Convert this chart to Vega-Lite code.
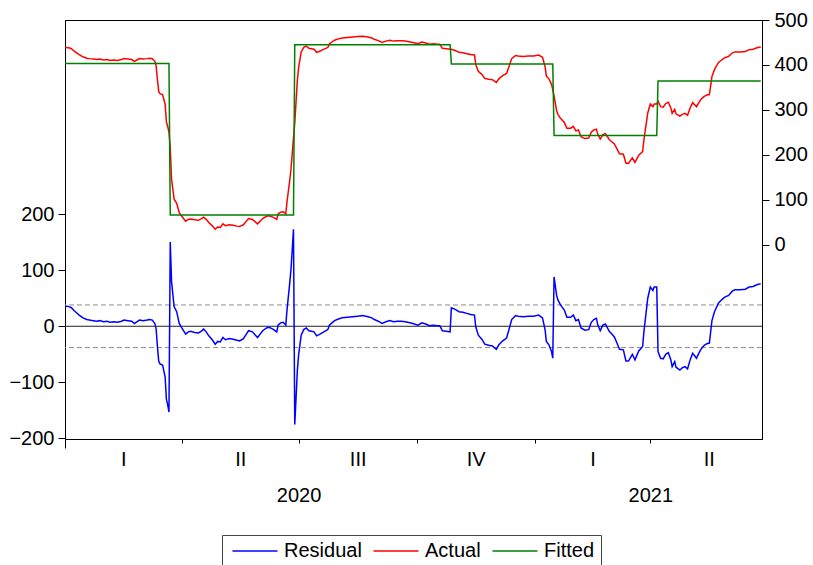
{
  "$schema": "https://vega.github.io/schema/vega-lite/v6.json",
  "width": 697,
  "height": 419,
  "autosize": {"type": "none"},
  "padding": {"left": 65, "top": 20, "right": 51, "bottom": 126},
  "data": {
    "values": [
      {"date": "2020-01-01", "Residual": 36, "Actual": 439, "Fitted": 403},
      {"date": "2020-01-04", "Residual": 35, "Actual": 438, "Fitted": 403},
      {"date": "2020-01-06", "Residual": 33, "Actual": 436, "Fitted": 403},
      {"date": "2020-01-08", "Residual": 28, "Actual": 431, "Fitted": 403},
      {"date": "2020-01-10", "Residual": 24, "Actual": 427, "Fitted": 403},
      {"date": "2020-01-12", "Residual": 20, "Actual": 423, "Fitted": 403},
      {"date": "2020-01-15", "Residual": 15, "Actual": 418, "Fitted": 403},
      {"date": "2020-01-18", "Residual": 12, "Actual": 415, "Fitted": 403},
      {"date": "2020-01-20", "Residual": 11, "Actual": 414, "Fitted": 403},
      {"date": "2020-01-23", "Residual": 10, "Actual": 413, "Fitted": 403},
      {"date": "2020-01-26", "Residual": 9, "Actual": 412, "Fitted": 403},
      {"date": "2020-01-28", "Residual": 10, "Actual": 413, "Fitted": 403},
      {"date": "2020-01-31", "Residual": 8, "Actual": 411, "Fitted": 403},
      {"date": "2020-02-03", "Residual": 9, "Actual": 412, "Fitted": 403},
      {"date": "2020-02-05", "Residual": 7, "Actual": 410, "Fitted": 403},
      {"date": "2020-02-08", "Residual": 8, "Actual": 411, "Fitted": 403},
      {"date": "2020-02-11", "Residual": 7, "Actual": 410, "Fitted": 403},
      {"date": "2020-02-14", "Residual": 9, "Actual": 412, "Fitted": 403},
      {"date": "2020-02-16", "Residual": 11, "Actual": 414, "Fitted": 403},
      {"date": "2020-02-19", "Residual": 10, "Actual": 413, "Fitted": 403},
      {"date": "2020-02-22", "Residual": 9, "Actual": 412, "Fitted": 403},
      {"date": "2020-02-24", "Residual": 5, "Actual": 408, "Fitted": 403},
      {"date": "2020-02-26", "Residual": 8, "Actual": 411, "Fitted": 403},
      {"date": "2020-02-28", "Residual": 11, "Actual": 414, "Fitted": 403},
      {"date": "2020-03-02", "Residual": 10, "Actual": 413, "Fitted": 403},
      {"date": "2020-03-05", "Residual": 11, "Actual": 414, "Fitted": 403},
      {"date": "2020-03-07", "Residual": 12, "Actual": 415, "Fitted": 403},
      {"date": "2020-03-09", "Residual": 11, "Actual": 414, "Fitted": 403},
      {"date": "2020-03-11", "Residual": 5, "Actual": 408, "Fitted": 403},
      {"date": "2020-03-12", "Residual": -5, "Actual": 398, "Fitted": 403},
      {"date": "2020-03-13", "Residual": -36, "Actual": 367, "Fitted": 403},
      {"date": "2020-03-14", "Residual": -62, "Actual": 341, "Fitted": 403},
      {"date": "2020-03-15", "Residual": -67, "Actual": 336, "Fitted": 403},
      {"date": "2020-03-17", "Residual": -69, "Actual": 334, "Fitted": 403},
      {"date": "2020-03-19", "Residual": -90, "Actual": 313, "Fitted": 403},
      {"date": "2020-03-20", "Residual": -130, "Actual": 273, "Fitted": 403},
      {"date": "2020-03-21", "Residual": -140, "Actual": 263, "Fitted": 403},
      {"date": "2020-03-22", "Residual": -153, "Actual": 250, "Fitted": 403},
      {"date": "2020-03-23", "Residual": 150, "Actual": 216, "Fitted": 66},
      {"date": "2020-03-24", "Residual": 80, "Actual": 146, "Fitted": 66},
      {"date": "2020-03-26", "Residual": 35, "Actual": 101, "Fitted": 66},
      {"date": "2020-03-28", "Residual": 26, "Actual": 92, "Fitted": 66},
      {"date": "2020-03-30", "Residual": 5, "Actual": 71, "Fitted": 66},
      {"date": "2020-04-01", "Residual": -3, "Actual": 63, "Fitted": 66},
      {"date": "2020-04-04", "Residual": -14, "Actual": 52, "Fitted": 66},
      {"date": "2020-04-06", "Residual": -10, "Actual": 56, "Fitted": 66},
      {"date": "2020-04-08", "Residual": -9, "Actual": 57, "Fitted": 66},
      {"date": "2020-04-11", "Residual": -11, "Actual": 55, "Fitted": 66},
      {"date": "2020-04-14", "Residual": -12, "Actual": 54, "Fitted": 66},
      {"date": "2020-04-16", "Residual": -9, "Actual": 57, "Fitted": 66},
      {"date": "2020-04-18", "Residual": -5, "Actual": 61, "Fitted": 66},
      {"date": "2020-04-20", "Residual": -10, "Actual": 56, "Fitted": 66},
      {"date": "2020-04-22", "Residual": -17, "Actual": 49, "Fitted": 66},
      {"date": "2020-04-25", "Residual": -25, "Actual": 41, "Fitted": 66},
      {"date": "2020-04-27", "Residual": -32, "Actual": 34, "Fitted": 66},
      {"date": "2020-04-29", "Residual": -27, "Actual": 39, "Fitted": 66},
      {"date": "2020-05-01", "Residual": -28, "Actual": 38, "Fitted": 66},
      {"date": "2020-05-03", "Residual": -20, "Actual": 46, "Fitted": 66},
      {"date": "2020-05-05", "Residual": -24, "Actual": 42, "Fitted": 66},
      {"date": "2020-05-08", "Residual": -22, "Actual": 44, "Fitted": 66},
      {"date": "2020-05-11", "Residual": -23, "Actual": 43, "Fitted": 66},
      {"date": "2020-05-14", "Residual": -25, "Actual": 41, "Fitted": 66},
      {"date": "2020-05-16", "Residual": -26, "Actual": 40, "Fitted": 66},
      {"date": "2020-05-19", "Residual": -22, "Actual": 44, "Fitted": 66},
      {"date": "2020-05-21", "Residual": -15, "Actual": 51, "Fitted": 66},
      {"date": "2020-05-23", "Residual": -8, "Actual": 58, "Fitted": 66},
      {"date": "2020-05-26", "Residual": -10, "Actual": 56, "Fitted": 66},
      {"date": "2020-05-28", "Residual": -15, "Actual": 51, "Fitted": 66},
      {"date": "2020-05-30", "Residual": -20, "Actual": 46, "Fitted": 66},
      {"date": "2020-06-01", "Residual": -14, "Actual": 52, "Fitted": 66},
      {"date": "2020-06-03", "Residual": -8, "Actual": 58, "Fitted": 66},
      {"date": "2020-06-06", "Residual": -3, "Actual": 63, "Fitted": 66},
      {"date": "2020-06-08", "Residual": -2, "Actual": 64, "Fitted": 66},
      {"date": "2020-06-11", "Residual": -5, "Actual": 61, "Fitted": 66},
      {"date": "2020-06-14", "Residual": -10, "Actual": 56, "Fitted": 66},
      {"date": "2020-06-15", "Residual": 2, "Actual": 68, "Fitted": 66},
      {"date": "2020-06-17", "Residual": 6, "Actual": 72, "Fitted": 66},
      {"date": "2020-06-19", "Residual": 7, "Actual": 73, "Fitted": 66},
      {"date": "2020-06-21", "Residual": 2, "Actual": 68, "Fitted": 66},
      {"date": "2020-06-22", "Residual": 30, "Actual": 96, "Fitted": 66},
      {"date": "2020-06-24", "Residual": 75, "Actual": 141, "Fitted": 66},
      {"date": "2020-06-25", "Residual": 100, "Actual": 166, "Fitted": 66},
      {"date": "2020-06-26", "Residual": 135, "Actual": 201, "Fitted": 66},
      {"date": "2020-06-27", "Residual": 173, "Actual": 239, "Fitted": 66},
      {"date": "2020-06-28", "Residual": -175, "Actual": 270, "Fitted": 445},
      {"date": "2020-06-30", "Residual": -80, "Actual": 365, "Fitted": 445},
      {"date": "2020-07-01", "Residual": -51, "Actual": 394, "Fitted": 445},
      {"date": "2020-07-03", "Residual": -16, "Actual": 429, "Fitted": 445},
      {"date": "2020-07-05", "Residual": -6, "Actual": 439, "Fitted": 445},
      {"date": "2020-07-07", "Residual": -3, "Actual": 442, "Fitted": 445},
      {"date": "2020-07-09", "Residual": -8, "Actual": 437, "Fitted": 445},
      {"date": "2020-07-11", "Residual": -9, "Actual": 436, "Fitted": 445},
      {"date": "2020-07-13", "Residual": -10, "Actual": 435, "Fitted": 445},
      {"date": "2020-07-15", "Residual": -17, "Actual": 428, "Fitted": 445},
      {"date": "2020-07-17", "Residual": -15, "Actual": 430, "Fitted": 445},
      {"date": "2020-07-20", "Residual": -11, "Actual": 434, "Fitted": 445},
      {"date": "2020-07-23", "Residual": -7, "Actual": 438, "Fitted": 445},
      {"date": "2020-07-24", "Residual": -5, "Actual": 440, "Fitted": 445},
      {"date": "2020-07-25", "Residual": 2, "Actual": 447, "Fitted": 445},
      {"date": "2020-07-27", "Residual": 6, "Actual": 451, "Fitted": 445},
      {"date": "2020-07-29", "Residual": 10, "Actual": 455, "Fitted": 445},
      {"date": "2020-08-01", "Residual": 13, "Actual": 458, "Fitted": 445},
      {"date": "2020-08-04", "Residual": 15, "Actual": 460, "Fitted": 445},
      {"date": "2020-08-08", "Residual": 16, "Actual": 461, "Fitted": 445},
      {"date": "2020-08-12", "Residual": 17, "Actual": 462, "Fitted": 445},
      {"date": "2020-08-16", "Residual": 18, "Actual": 463, "Fitted": 445},
      {"date": "2020-08-20", "Residual": 19, "Actual": 464, "Fitted": 445},
      {"date": "2020-08-24", "Residual": 17, "Actual": 462, "Fitted": 445},
      {"date": "2020-08-27", "Residual": 15, "Actual": 460, "Fitted": 445},
      {"date": "2020-08-29", "Residual": 12, "Actual": 457, "Fitted": 445},
      {"date": "2020-09-01", "Residual": 9, "Actual": 454, "Fitted": 445},
      {"date": "2020-09-04", "Residual": 5, "Actual": 450, "Fitted": 445},
      {"date": "2020-09-07", "Residual": 8, "Actual": 453, "Fitted": 445},
      {"date": "2020-09-10", "Residual": 10, "Actual": 455, "Fitted": 445},
      {"date": "2020-09-13", "Residual": 8, "Actual": 453, "Fitted": 445},
      {"date": "2020-09-16", "Residual": 9, "Actual": 454, "Fitted": 445},
      {"date": "2020-09-19", "Residual": 9, "Actual": 454, "Fitted": 445},
      {"date": "2020-09-22", "Residual": 8, "Actual": 453, "Fitted": 445},
      {"date": "2020-09-24", "Residual": 7, "Actual": 452, "Fitted": 445},
      {"date": "2020-09-28", "Residual": 5, "Actual": 450, "Fitted": 445},
      {"date": "2020-10-02", "Residual": 2, "Actual": 447, "Fitted": 445},
      {"date": "2020-10-05", "Residual": 6, "Actual": 451, "Fitted": 445},
      {"date": "2020-10-08", "Residual": 4, "Actual": 449, "Fitted": 445},
      {"date": "2020-10-11", "Residual": 1, "Actual": 446, "Fitted": 445},
      {"date": "2020-10-14", "Residual": 2, "Actual": 447, "Fitted": 445},
      {"date": "2020-10-17", "Residual": 1, "Actual": 446, "Fitted": 445},
      {"date": "2020-10-19", "Residual": 1, "Actual": 446, "Fitted": 445},
      {"date": "2020-10-21", "Residual": -8, "Actual": 437, "Fitted": 445},
      {"date": "2020-10-24", "Residual": -9, "Actual": 436, "Fitted": 445},
      {"date": "2020-10-27", "Residual": -10, "Actual": 435, "Fitted": 445},
      {"date": "2020-10-28", "Residual": 33, "Actual": 435, "Fitted": 402},
      {"date": "2020-10-31", "Residual": 30, "Actual": 432, "Fitted": 402},
      {"date": "2020-11-03", "Residual": 26, "Actual": 428, "Fitted": 402},
      {"date": "2020-11-06", "Residual": 25, "Actual": 427, "Fitted": 402},
      {"date": "2020-11-09", "Residual": 23, "Actual": 425, "Fitted": 402},
      {"date": "2020-11-12", "Residual": 21, "Actual": 423, "Fitted": 402},
      {"date": "2020-11-15", "Residual": 20, "Actual": 422, "Fitted": 402},
      {"date": "2020-11-16", "Residual": -1, "Actual": 401, "Fitted": 402},
      {"date": "2020-11-18", "Residual": -16, "Actual": 386, "Fitted": 402},
      {"date": "2020-11-21", "Residual": -24, "Actual": 378, "Fitted": 402},
      {"date": "2020-11-23", "Residual": -32, "Actual": 370, "Fitted": 402},
      {"date": "2020-11-26", "Residual": -34, "Actual": 368, "Fitted": 402},
      {"date": "2020-11-29", "Residual": -35, "Actual": 367, "Fitted": 402},
      {"date": "2020-12-02", "Residual": -41, "Actual": 361, "Fitted": 402},
      {"date": "2020-12-04", "Residual": -33, "Actual": 369, "Fitted": 402},
      {"date": "2020-12-07", "Residual": -26, "Actual": 376, "Fitted": 402},
      {"date": "2020-12-10", "Residual": -21, "Actual": 381, "Fitted": 402},
      {"date": "2020-12-12", "Residual": -5, "Actual": 397, "Fitted": 402},
      {"date": "2020-12-14", "Residual": 12, "Actual": 414, "Fitted": 402},
      {"date": "2020-12-17", "Residual": 19, "Actual": 421, "Fitted": 402},
      {"date": "2020-12-19", "Residual": 18, "Actual": 420, "Fitted": 402},
      {"date": "2020-12-23", "Residual": 17, "Actual": 419, "Fitted": 402},
      {"date": "2020-12-27", "Residual": 18, "Actual": 420, "Fitted": 402},
      {"date": "2020-12-31", "Residual": 18, "Actual": 420, "Fitted": 402},
      {"date": "2021-01-04", "Residual": 20, "Actual": 422, "Fitted": 402},
      {"date": "2021-01-07", "Residual": 15, "Actual": 417, "Fitted": 402},
      {"date": "2021-01-09", "Residual": -6, "Actual": 396, "Fitted": 402},
      {"date": "2021-01-10", "Residual": -27, "Actual": 375, "Fitted": 402},
      {"date": "2021-01-12", "Residual": -33, "Actual": 369, "Fitted": 402},
      {"date": "2021-01-14", "Residual": -45, "Actual": 357, "Fitted": 402},
      {"date": "2021-01-15", "Residual": -57, "Actual": 345, "Fitted": 402},
      {"date": "2021-01-16", "Residual": 88, "Actual": 331, "Fitted": 243},
      {"date": "2021-01-18", "Residual": 55, "Actual": 298, "Fitted": 243},
      {"date": "2021-01-19", "Residual": 47, "Actual": 290, "Fitted": 243},
      {"date": "2021-01-21", "Residual": 38, "Actual": 281, "Fitted": 243},
      {"date": "2021-01-24", "Residual": 29, "Actual": 272, "Fitted": 243},
      {"date": "2021-01-26", "Residual": 16, "Actual": 259, "Fitted": 243},
      {"date": "2021-01-29", "Residual": 16, "Actual": 259, "Fitted": 243},
      {"date": "2021-01-31", "Residual": 20, "Actual": 263, "Fitted": 243},
      {"date": "2021-02-02", "Residual": 10, "Actual": 253, "Fitted": 243},
      {"date": "2021-02-04", "Residual": 12, "Actual": 255, "Fitted": 243},
      {"date": "2021-02-06", "Residual": -3, "Actual": 240, "Fitted": 243},
      {"date": "2021-02-09", "Residual": -7, "Actual": 236, "Fitted": 243},
      {"date": "2021-02-12", "Residual": -6, "Actual": 237, "Fitted": 243},
      {"date": "2021-02-14", "Residual": 7, "Actual": 250, "Fitted": 243},
      {"date": "2021-02-16", "Residual": 12, "Actual": 255, "Fitted": 243},
      {"date": "2021-02-18", "Residual": 14, "Actual": 257, "Fitted": 243},
      {"date": "2021-02-19", "Residual": 3, "Actual": 246, "Fitted": 243},
      {"date": "2021-02-21", "Residual": -8, "Actual": 235, "Fitted": 243},
      {"date": "2021-02-23", "Residual": 2, "Actual": 245, "Fitted": 243},
      {"date": "2021-02-25", "Residual": 4, "Actual": 247, "Fitted": 243},
      {"date": "2021-02-28", "Residual": -9, "Actual": 234, "Fitted": 243},
      {"date": "2021-03-02", "Residual": -14, "Actual": 229, "Fitted": 243},
      {"date": "2021-03-04", "Residual": -19, "Actual": 224, "Fitted": 243},
      {"date": "2021-03-06", "Residual": -30, "Actual": 213, "Fitted": 243},
      {"date": "2021-03-08", "Residual": -41, "Actual": 202, "Fitted": 243},
      {"date": "2021-03-11", "Residual": -42, "Actual": 201, "Fitted": 243},
      {"date": "2021-03-13", "Residual": -62, "Actual": 181, "Fitted": 243},
      {"date": "2021-03-15", "Residual": -62, "Actual": 181, "Fitted": 243},
      {"date": "2021-03-18", "Residual": -50, "Actual": 193, "Fitted": 243},
      {"date": "2021-03-20", "Residual": -60, "Actual": 183, "Fitted": 243},
      {"date": "2021-03-23", "Residual": -44, "Actual": 199, "Fitted": 243},
      {"date": "2021-03-26", "Residual": -36, "Actual": 207, "Fitted": 243},
      {"date": "2021-03-27", "Residual": -10, "Actual": 233, "Fitted": 243},
      {"date": "2021-03-28", "Residual": 10, "Actual": 253, "Fitted": 243},
      {"date": "2021-03-30", "Residual": 50, "Actual": 293, "Fitted": 243},
      {"date": "2021-04-01", "Residual": 70, "Actual": 313, "Fitted": 243},
      {"date": "2021-04-03", "Residual": 64, "Actual": 307, "Fitted": 243},
      {"date": "2021-04-04", "Residual": 70, "Actual": 313, "Fitted": 243},
      {"date": "2021-04-06", "Residual": 70, "Actual": 313, "Fitted": 243},
      {"date": "2021-04-07", "Residual": -45, "Actual": 319, "Fitted": 364},
      {"date": "2021-04-09", "Residual": -57, "Actual": 307, "Fitted": 364},
      {"date": "2021-04-11", "Residual": -58, "Actual": 306, "Fitted": 364},
      {"date": "2021-04-13", "Residual": -50, "Actual": 314, "Fitted": 364},
      {"date": "2021-04-15", "Residual": -47, "Actual": 317, "Fitted": 364},
      {"date": "2021-04-17", "Residual": -60, "Actual": 304, "Fitted": 364},
      {"date": "2021-04-18", "Residual": -72, "Actual": 292, "Fitted": 364},
      {"date": "2021-04-20", "Residual": -63, "Actual": 301, "Fitted": 364},
      {"date": "2021-04-21", "Residual": -73, "Actual": 291, "Fitted": 364},
      {"date": "2021-04-24", "Residual": -78, "Actual": 286, "Fitted": 364},
      {"date": "2021-04-26", "Residual": -74, "Actual": 290, "Fitted": 364},
      {"date": "2021-04-28", "Residual": -72, "Actual": 292, "Fitted": 364},
      {"date": "2021-04-30", "Residual": -76, "Actual": 288, "Fitted": 364},
      {"date": "2021-05-02", "Residual": -60, "Actual": 304, "Fitted": 364},
      {"date": "2021-05-04", "Residual": -48, "Actual": 316, "Fitted": 364},
      {"date": "2021-05-07", "Residual": -57, "Actual": 307, "Fitted": 364},
      {"date": "2021-05-09", "Residual": -47, "Actual": 317, "Fitted": 364},
      {"date": "2021-05-11", "Residual": -39, "Actual": 325, "Fitted": 364},
      {"date": "2021-05-13", "Residual": -34, "Actual": 330, "Fitted": 364},
      {"date": "2021-05-15", "Residual": -31, "Actual": 333, "Fitted": 364},
      {"date": "2021-05-17", "Residual": -30, "Actual": 334, "Fitted": 364},
      {"date": "2021-05-18", "Residual": -10, "Actual": 354, "Fitted": 364},
      {"date": "2021-05-19", "Residual": 10, "Actual": 374, "Fitted": 364},
      {"date": "2021-05-21", "Residual": 26, "Actual": 390, "Fitted": 364},
      {"date": "2021-05-24", "Residual": 41, "Actual": 405, "Fitted": 364},
      {"date": "2021-05-27", "Residual": 48, "Actual": 412, "Fitted": 364},
      {"date": "2021-05-29", "Residual": 52, "Actual": 416, "Fitted": 364},
      {"date": "2021-06-01", "Residual": 55, "Actual": 419, "Fitted": 364},
      {"date": "2021-06-04", "Residual": 63, "Actual": 427, "Fitted": 364},
      {"date": "2021-06-06", "Residual": 65, "Actual": 429, "Fitted": 364},
      {"date": "2021-06-10", "Residual": 65, "Actual": 429, "Fitted": 364},
      {"date": "2021-06-14", "Residual": 66, "Actual": 430, "Fitted": 364},
      {"date": "2021-06-17", "Residual": 70, "Actual": 434, "Fitted": 364},
      {"date": "2021-06-20", "Residual": 71, "Actual": 435, "Fitted": 364},
      {"date": "2021-06-23", "Residual": 74, "Actual": 438, "Fitted": 364},
      {"date": "2021-06-26", "Residual": 76, "Actual": 440, "Fitted": 364}
    ]
  },
  "layer": [
    {
      "layer": [
        {
          "data": {"values": [{"band": 38}, {"band": -38}]},
          "mark": {"type": "rule", "color": "#8c8c8c", "strokeDash": [5, 3], "strokeWidth": 1},
          "encoding": {
            "y": {"field": "band", "type": "quantitative", "title": null, "scale": {"domain": [-201, 546], "nice": false, "zero": false}}
          }
        },
        {
          "data": {"values": [{"zero": 0}]},
          "mark": {"type": "rule", "color": "#222222", "strokeWidth": 1},
          "encoding": {
            "y": {"field": "zero", "type": "quantitative", "title": null}
          }
        },
        {
          "mark": {"type": "line", "strokeWidth": 1.5},
          "encoding": {
            "x": {
              "field": "date",
              "type": "temporal",
              "title": null,
              "scale": {"type": "utc", "nice": false, "domain": [{"year": 2020, "month": 1, "date": 1, "utc": true}, {"year": 2021, "month": 6, "date": 27, "utc": true}]},
              "axis": {
                "orient": "bottom",
                "values": [
                  {"year": 2020, "month": 1, "date": 1, "utc": true},
                  {"year": 2020, "month": 4, "date": 1, "utc": true},
                  {"year": 2020, "month": 7, "date": 1, "utc": true},
                  {"year": 2020, "month": 10, "date": 1, "utc": true},
                  {"year": 2021, "month": 1, "date": 1, "utc": true},
                  {"year": 2021, "month": 4, "date": 1, "utc": true}
                ],
                "labelExpr": "(utcyear(datum.value) == 2020 && utcmonth(datum.value) == 6) ? '2020' : ((utcyear(datum.value) == 2021 && utcmonth(datum.value) == 3) ? '2021' : '')",
                "tickSize": {"condition": {"test": "utcyear(datum.value) == 2020 && utcmonth(datum.value) == 0", "value": 9}, "value": 4},
                "labelPadding": 42,
                "labelFlush": false,
                "labelOverlap": false,
                "grid": false,
                "domain": true
              }
            },
            "y": {
              "field": "Residual",
              "type": "quantitative",
              "title": null,
              "scale": {"domain": [-201, 546], "nice": false, "zero": false},
              "axis": {"orient": "left", "values": [-200, -100, 0, 100, 200], "tickSize": 7, "labelPadding": 4, "grid": false, "labelFlush": false, "labelOverlap": false}
            },
            "color": {
              "datum": "Residual",
              "type": "nominal",
              "scale": {"domain": ["Residual", "Actual", "Fitted"], "range": ["#0000FF", "#FF0000", "#008000"]},
              "legend": {"orient": "none", "legendX": 157, "legendY": 515, "direction": "horizontal", "title": null, "symbolType": "M-2.5,0H2.5", "symbolSize": 324, "symbolOffset": 17, "symbolStrokeWidth": 1.5, "symbolFillColor": "transparent", "labelFontSize": 20, "labelOffset": 19, "columnPadding": 7, "padding": 6, "strokeColor": "#444444", "fillColor": "#ffffff", "labelColor": "#000000"}
            }
          }
        }
      ]
    },
    {
      "transform": [{"fold": ["Actual", "Fitted"], "as": ["series", "value"]}],
      "mark": {"type": "line", "strokeWidth": 1.5},
      "encoding": {
        "x": {
          "field": "date",
          "type": "temporal",
          "title": null,
          "scale": {"type": "utc", "nice": false, "domain": [{"year": 2020, "month": 1, "date": 1, "utc": true}, {"year": 2021, "month": 6, "date": 27, "utc": true}]},
          "axis": {
            "orient": "bottom",
            "values": [
              {"year": 2020, "month": 2, "date": 15, "hours": 12, "utc": true},
              {"year": 2020, "month": 5, "date": 16, "hours": 12, "utc": true},
              {"year": 2020, "month": 8, "date": 16, "utc": true},
              {"year": 2020, "month": 11, "date": 16, "utc": true},
              {"year": 2021, "month": 2, "date": 15, "utc": true},
              {"year": 2021, "month": 5, "date": 16, "hours": 12, "utc": true}
            ],
            "labelExpr": "['I','II','III','IV'][floor(utcmonth(datum.value) / 3)]",
            "ticks": false,
            "tickSize": 0,
            "domain": false,
            "labelPadding": 10,
            "labelFlush": false,
            "labelOverlap": false,
            "grid": false
          }
        },
        "y": {
          "field": "value",
          "type": "quantitative",
          "title": null,
          "scale": {"domain": [-433, 500], "nice": false, "zero": false},
          "axis": {"orient": "right", "values": [0, 100, 200, 300, 400, 500], "tickSize": 7, "labelPadding": 5, "grid": false, "labelFlush": false, "labelOverlap": false}
        },
        "color": {
          "field": "series",
          "type": "nominal",
          "scale": {"domain": ["Residual", "Actual", "Fitted"], "range": ["#0000FF", "#FF0000", "#008000"]},
          "legend": {"orient": "none", "legendX": 157, "legendY": 515, "direction": "horizontal", "title": null, "symbolType": "M-2.5,0H2.5", "symbolSize": 324, "symbolOffset": 17, "symbolStrokeWidth": 1.5, "symbolFillColor": "transparent", "labelFontSize": 20, "labelOffset": 19, "columnPadding": 7, "padding": 6, "strokeColor": "#444444", "fillColor": "#ffffff", "labelColor": "#000000"}
        }
      }
    }
  ],
  "resolve": {"scale": {"y": "independent"}, "axis": {"x": "independent", "y": "independent"}},
  "config": {
    "font": "Liberation Sans",
    "background": "#ffffff",
    "view": {"stroke": "#000000", "strokeWidth": 1},
    "axis": {"labelFont": "Liberation Sans", "labelFontSize": 20, "labelColor": "#000000", "domainColor": "#000000", "tickColor": "#000000", "domainWidth": 1, "tickWidth": 1},
    "legend": {"labelFont": "Liberation Sans"}
  }
}
